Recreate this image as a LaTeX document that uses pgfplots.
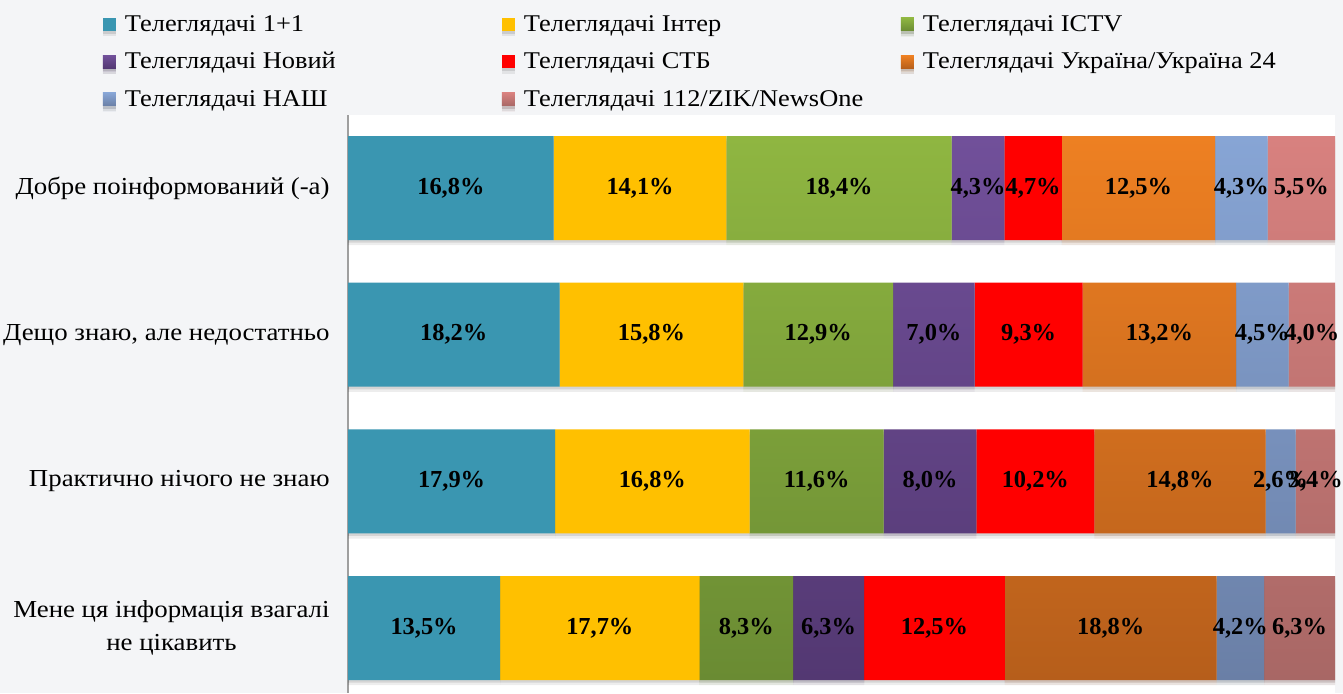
\documentclass[border=0pt]{standalone}
\usepackage{fontspec}
\setmainfont{Liberation Serif}[FakeStretch=1.1]
\newfontfamily\lblfont{Liberation Serif}
\usepackage{pgfplots}
\usepackage{pgfplotstable}
\pgfplotsset{compat=1.18}
\makeatletter
\newcommand{\clearpre}{\let\tikz@preactions\pgfutil@empty}
\makeatother
\definecolor{bg}{HTML}{F4F5F7}
\definecolor{cA}{HTML}{3A96B1}
\definecolor{cB}{HTML}{FFC000}
\definecolor{cCt}{HTML}{8FB641}
\definecolor{cCb}{HTML}{6A8B33}
\definecolor{cDt}{HTML}{71509A}
\definecolor{cDb}{HTML}{533872}
\definecolor{cE}{HTML}{FF0000}
\definecolor{cFt}{HTML}{EE8022}
\definecolor{cFb}{HTML}{B65E1B}
\definecolor{cGt}{HTML}{87A5D5}
\definecolor{cGb}{HTML}{6A7FA6}
\definecolor{cHt}{HTML}{D8817F}
\definecolor{cHb}{HTML}{A86765}
\pgfplotstableread{
row s c1 c2 c3 c4 c5 c6 c7 c8
0 80.6 16.8 14.1 18.4 4.3 4.7 12.5 4.3 5.5
1 84.9 18.2 15.8 12.9 7.0 9.3 13.2 4.5 4.0
2 85.3 17.9 16.8 11.6 8.0 10.2 14.8 2.6 3.4
3 87.6 13.5 17.7 8.3 6.3 12.5 18.8 4.2 6.3
}\data
\pgfplotsset{
  leg/.style={legend image code/.code={\clearpre\path[#1] (0pt,-3.25pt) rectangle (6.5pt,3.25pt);}},
  shd/.style={preaction={fill=black, fill opacity=0.07, transform canvas={yshift=-2.6pt}},
              preaction={fill=black, fill opacity=0.10, transform canvas={yshift=-1.3pt}}},
  geom/.style={at={(174pt,0pt)}, anchor=south west,
    scale only axis, width=493.5pt, height=289pt,
    xmin=0, xmax=100, ymin=-0.498, ymax=3.443, y dir=reverse},
  lbl/.style={only marks, mark=*, mark size=0pt, mark options={draw=none, fill=none}, forget plot,
    point meta=explicit,
    nodes near coords={\pgfmathprintnumber[fixed,fixed zerofill,precision=1,use comma,assume math mode=true]{\pgfplotspointmeta}\%},
    every node near coord/.append style={font=\lblfont\fontsize{12.2}{14}\selectfont\bfseries, anchor=center, text=black, inner sep=0pt}},
}
\newcommand{\legtxt}[1]{\makebox[188.5pt][l]{#1}}
\begin{document}
\begin{tikzpicture}
\useasboundingbox (0,0) rectangle (671.5pt,346.5pt);
\fill[bg] (0,0) rectangle (671.5pt,346.5pt);
\begin{axis}[
  geom,
  xbar stacked, bar width=0.709,
  axis x line=none, axis y line*=left,
  y axis line style={draw=gray!75, line width=0.9pt},
  axis background/.style={fill=white},
  ytick={0,1,2,3},
  yticklabels={Добре поінформований (-а), {Дещо знаю, але недостатньо}, Практично нічого не знаю, {Мене ця інформація взагалі\\не цікавить}},
  major tick length=0pt, ytick style={draw=none},
  yticklabel style={font=\fontsize{12.2}{16.5}\selectfont, align=center, inner sep=0pt, xshift=-9pt},
  legend columns=3,
  legend style={at={(axis description cs:-0.24823,1.17907)}, anchor=north west, draw=none, fill=none,
    inner sep=0pt, outer sep=0pt, row sep=5.75pt,
    nodes={inner sep=0pt, text height=10pt, text depth=3pt, font=\fontsize{12}{14}\selectfont},
    /tikz/every odd column/.append style={column sep=4.5pt}},
]
\addplot[fill=cA, draw=none, leg={fill=cA}, shd] table[y=row, x expr={\thisrow{c1}*100/\thisrow{s}}]{\data};
\addlegendentry{\legtxt{Телеглядачі 1+1}}
\addplot[fill=cB, draw=none, leg={fill=cB}, shd] table[y=row, x expr={\thisrow{c2}*100/\thisrow{s}}]{\data};
\addlegendentry{\legtxt{Телеглядачі Інтер}}
\addplot[top color=cCt, bottom color=cCb, draw=none, leg={top color=cCt, bottom color=cCb}, shd] table[y=row, x expr={\thisrow{c3}*100/\thisrow{s}}]{\data};
\addlegendentry{\legtxt{Телеглядачі ICTV}}
\addplot[top color=cDt, bottom color=cDb, draw=none, leg={top color=cDt, bottom color=cDb}, shd] table[y=row, x expr={\thisrow{c4}*100/\thisrow{s}}]{\data};
\addlegendentry{\legtxt{Телеглядачі Новий}}
\addplot[fill=cE, draw=none, leg={fill=cE}, shd] table[y=row, x expr={\thisrow{c5}*100/\thisrow{s}}]{\data};
\addlegendentry{\legtxt{Телеглядачі СТБ}}
\addplot[top color=cFt, bottom color=cFb, draw=none, leg={top color=cFt, bottom color=cFb}, shd] table[y=row, x expr={\thisrow{c6}*100/\thisrow{s}}]{\data};
\addlegendentry{\legtxt{Телеглядачі Україна/Україна 24}}
\addplot[top color=cGt, bottom color=cGb, draw=none, leg={top color=cGt, bottom color=cGb}, shd] table[y=row, x expr={\thisrow{c7}*100/\thisrow{s}}]{\data};
\addlegendentry{\legtxt{Телеглядачі НАШ}}
\addplot[top color=cHt, bottom color=cHb, draw=none, leg={top color=cHt, bottom color=cHb}, shd] table[y=row, x expr={\thisrow{c8}*100/\thisrow{s}}]{\data};
\addlegendentry{\legtxt{Телеглядачі 112/ZIK/NewsOne}}
\end{axis}
\begin{axis}[geom, hide axis, clip=false]
\addplot[lbl] table[y=row, meta=c1, x expr={(\thisrow{c1}/2)*100/\thisrow{s}}]{\data};
\addplot[lbl] table[y=row, meta=c2, x expr={(\thisrow{c1}+\thisrow{c2}/2)*100/\thisrow{s}}]{\data};
\addplot[lbl] table[y=row, meta=c3, x expr={(\thisrow{c1}+\thisrow{c2}+\thisrow{c3}/2)*100/\thisrow{s}}]{\data};
\addplot[lbl] table[y=row, meta=c4, x expr={(\thisrow{c1}+\thisrow{c2}+\thisrow{c3}+\thisrow{c4}/2)*100/\thisrow{s}}]{\data};
\addplot[lbl] table[y=row, meta=c5, x expr={(\thisrow{c1}+\thisrow{c2}+\thisrow{c3}+\thisrow{c4}+\thisrow{c5}/2)*100/\thisrow{s}}]{\data};
\addplot[lbl] table[y=row, meta=c6, x expr={(\thisrow{c1}+\thisrow{c2}+\thisrow{c3}+\thisrow{c4}+\thisrow{c5}+\thisrow{c6}/2)*100/\thisrow{s}}]{\data};
\addplot[lbl] table[y=row, meta=c7, x expr={(\thisrow{c1}+\thisrow{c2}+\thisrow{c3}+\thisrow{c4}+\thisrow{c5}+\thisrow{c6}+\thisrow{c7}/2)*100/\thisrow{s}}]{\data};
\addplot[lbl] table[y=row, meta=c8, x expr={(\thisrow{s}-\thisrow{c8}/2)*100/\thisrow{s}}]{\data};
\end{axis}
\end{tikzpicture}
\end{document}
